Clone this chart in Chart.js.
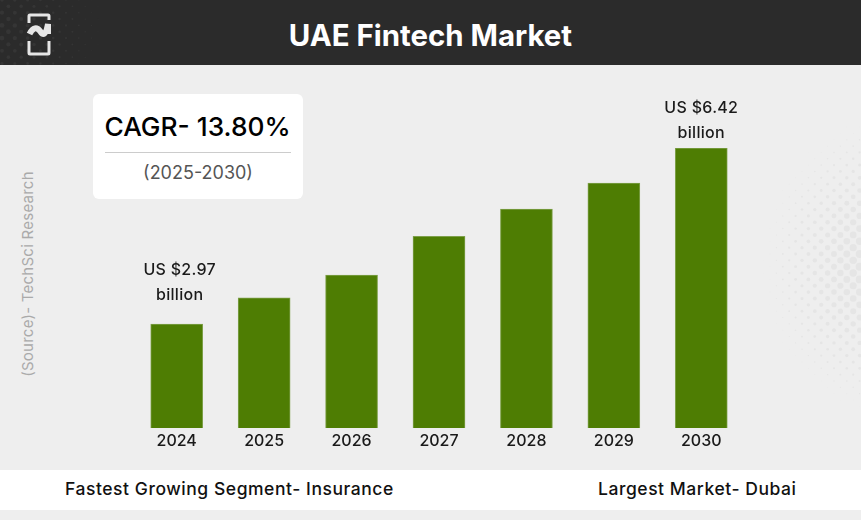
<!DOCTYPE html>
<html>
<head>
<meta charset="utf-8">
<title>UAE Fintech Market</title>
<script src="https://cdn.jsdelivr.net/npm/chart.js@4"></script>
<style>
  html, body { margin: 0; padding: 0; }
  body { width: 861px; height: 520px; position: relative; overflow: hidden; background: #eeeeee; font-family: Inter, "Open Sans", sans-serif; }
  #chart { position: absolute; left: 0; top: 0; }
  #dots { position: absolute; left: 0; top: 0; }
  .header { position: absolute; left: 0; top: 0; width: 861px; height: 65px; background: #2b2b2b; }
  #headerDots { position: absolute; left: 0; top: 0; }
  .title { position: absolute; left: 0; top: 0; width: 861px; line-height: 71px; text-align: center; color: #fff; font-size: 29.4px; font-weight: 700; }
  .logo { position: absolute; left: 25px; top: 12px; }
  .card { position: absolute; left: 93px; top: 94px; width: 210px; height: 105px; background: #fff; border-radius: 6px; }
  .cagr { position: absolute; left: 0; top: 15px; width: 209px; text-align: center; font-size: 26.3px; line-height: 36px; color: #000; font-weight: 500; }
  .rule { position: absolute; left: 12px; top: 58px; width: 186px; height: 1px; background: #cccccc; }
  .period { position: absolute; left: 0; top: 66px; width: 100%; text-align: center; font-size: 18px; line-height: 26px; color: #555; }
  .source { position: absolute; left: 27px; top: 274px; transform: translate(-50%, -50%) rotate(-90deg); white-space: nowrap; font-size: 15px; letter-spacing: 0.25px; color: #aaaaaa; }
  .band { position: absolute; left: 0; top: 470px; width: 861px; height: 40px; background: #fff; }
  .band span { position: absolute; top: 0; line-height: 38px; font-size: 17.5px; letter-spacing: 0.55px; color: #111; font-weight: 500; white-space: nowrap; }
</style>
</head>
<body>
<svg id="dots" width="861" height="520"></svg>
<div class="header">
  <svg id="headerDots" width="130" height="65"></svg>
  <svg class="logo" width="28" height="44" viewBox="0 0 28 44" fill="none" stroke="#e6e6e6" stroke-width="3">
    <path d="M4 11V4Q4 3 5 3H23Q24 3 24 4V8"/>
    <path d="M4 29V41Q4 42 5 42H23Q24 42 24 41V29"/>
    <path d="M4.5 22C8 15 12 15 15 19C18 24 21 23 23 12V22" stroke-width="6"/>
  </svg>
  <div class="title">UAE Fintech Market</div>
</div>
<div class="card">
  <div class="cagr">CAGR- 13.80%</div>
  <div class="rule"></div>
  <div class="period">(2025-2030)</div>
</div>
<div class="source">(Source)- TechSci Research</div>
<div class="band">
  <span style="left:65px">Fastest Growing Segment- Insurance</span>
  <span style="left:598px">Largest Market- Dubai</span>
</div>
<canvas id="chart" width="861" height="520"></canvas>
<script>
const years = ["2024", "2025", "2026", "2027", "2028", "2029", "2030"];
const marketSize = [2.97, 3.48, 3.93, 4.69, 5.22, 5.73, 6.42];
const axisFloor = 0.93;
const barLabels = { 0: ["US $2.97", "billion"], 6: ["US $6.42", "billion"] };

// background halftone, only decoration
function halftone(svg, cx, cy, rx, ry, maxR, color) {
  let out = "";
  for (let col = 0; col * 6.4 < 870; col++) {
    for (let row = 0; row * 12.7 < 530; row++) {
      const x = col * 6.4 + 2;
      const y = row * 12.7 + (col % 2 ? 6.35 : 0);
      const d = Math.hypot((x - cx) / rx, (y - cy) / ry);
      if (d < 1) {
        out += `<circle cx="${x}" cy="${y}" r="${(maxR * (1 - d)).toFixed(2)}" fill="${color}"/>`;
      }
    }
  }
  svg.innerHTML = out;
}
halftone(document.getElementById("dots"), 885, 265, 125, 150, 5, "#e5e5e5");
halftone(document.getElementById("headerDots"), 0, 30, 115, 90, 2.6, "#353535");

const labelPlugin = {
  id: "barLabels",
  afterDatasetsDraw(chart) {
    const ctx = chart.ctx;
    const bars = chart.getDatasetMeta(0).data;
    ctx.save();
    ctx.font = "500 16px Inter";
    ctx.letterSpacing = "0.3px";
    ctx.fillStyle = "#1a1a1a";
    ctx.textAlign = "center";
    ctx.textBaseline = "middle";
    Object.keys(barLabels).forEach((i) => {
      const bar = bars[i];
      // the first label sits higher above its bar than the last one
      const lift = Number(i) === 0 ? 29 : 15;
      const x = Number(i) === 0 ? bar.x + 3 : bar.x;
      ctx.fillText(barLabels[i][0], x, bar.y - lift - 25);
      ctx.fillText(barLabels[i][1], x, bar.y - lift);
    });
    ctx.restore();
  }
};

new Chart(document.getElementById("chart").getContext("2d"), {
  type: "bar",
  data: {
    labels: years,
    datasets: [
      {
        data: marketSize,
        backgroundColor: "#4e7d03",
        borderColor: "#7ea04a",
        borderWidth: 1,
        borderSkipped: false,
        barThickness: 52
      }
    ]
  },
  options: {
    responsive: false,
    animation: false,
    layout: { padding: { left: 133, right: 116, top: 148, bottom: 62 } },
    plugins: { legend: { display: false }, tooltip: { enabled: false } },
    scales: {
      x: {
        grid: { display: false, drawTicks: false, tickLength: 0 },
        border: { display: false },
        afterFit(scale) { scale.height = 30; },
        ticks: { color: "#1a1a1a", font: { family: "Inter", size: 16, weight: "500" }, padding: 4, maxRotation: 0 }
      },
      y: { display: false, min: axisFloor, max: 6.42 }
    }
  },
  plugins: [labelPlugin]
});
</script>
</body>
</html>
